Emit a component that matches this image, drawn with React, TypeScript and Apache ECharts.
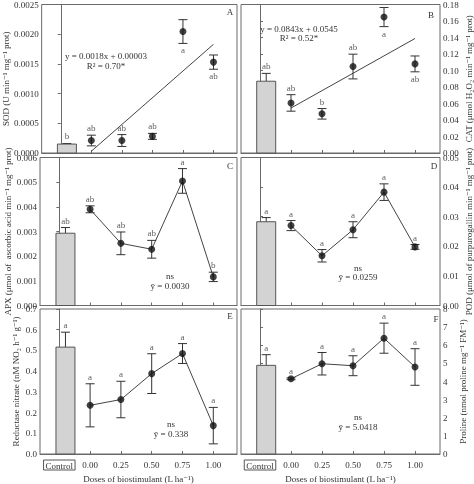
import React, { useEffect, useRef } from 'react';
import * as echarts from 'echarts';

// ---------- data ----------
const categories = ['Control', '0.00', '0.25', '0.50', '0.75', '1.00'];
const doseIndex = [1, 2, 3, 4, 5]; // position of each dose on the category scale
const controlOffset = 0.2; // bar drawn slightly right of its tick

// SOD (A)
const sodControl = [0.00015, 0.00001];
const sodControlLetter = 'b';
const sodMean = [0.00021, 0.00021, 0.00028, 0.002045, 0.00153];
const sodErr = [0.00009, 0.0001, 0.00005, 0.0002, 0.00012];
const sodLetters = ['ab', 'ab', 'ab', 'a', 'ab'];
const sodLetterPos = ['top', 'top', 'top', 'bottom', 'bottom'];
const sodFit = [0.0018, 0.00003]; // slope, intercept

// CAT (B)
const catControl = [0.087, 0.0095];
const catControlLetter = 'ab';
const catMean = [0.0607, 0.0475, 0.1048, 0.1648, 0.108];
const catErr = [0.01, 0.0064, 0.015, 0.0116, 0.0096];
const catLetters = ['ab', 'b', 'ab', 'a', 'ab'];
const catLetterPos = ['top', 'top', 'top', 'bottom', 'bottom'];
const catFit = [0.0843, 0.0545];

// APX (C)
const apxControl = [0.00293, 0.00023];
const apxControlLetter = 'ab';
const apxMean = [0.0039, 0.00252, 0.00228, 0.00505, 0.00116];
const apxErr = [0.00014, 0.00046, 0.00036, 0.0005, 0.00019];
const apxLetters = ['ab', 'ab', 'ab', 'a', 'b'];

// POD (D)
const podControl = [0.0283, 0.0014];
const podControlLetter = 'a';
const podMean = [0.027, 0.0168, 0.0256, 0.0383, 0.0198];
const podErr = [0.0017, 0.0021, 0.0027, 0.0028, 0.0008];
const podLetters = ['a', 'a', 'a', 'a', 'a'];

// Nitrate reductase (E)
const nrControl = [0.516, 0.072];
const nrControlLetter = 'a';
const nrMean = [0.235, 0.263, 0.388, 0.485, 0.137];
const nrErr = [0.104, 0.088, 0.096, 0.048, 0.088];
const nrLetters = ['a', 'a', 'a', 'a', 'a'];

// Proline (F)
const proControl = [4.89, 0.59];
const proControlLetter = 'a';
const proMean = [4.15, 4.98, 4.87, 6.39, 4.8];
const proErr = [0.05, 0.62, 0.55, 0.83, 1.01];
const proLetters = ['a', 'a', 'a', 'a', 'a'];

const allTop = ['top', 'top', 'top', 'top', 'top'];

// ---------- style ----------
const FONT = '"Liberation Serif", "DejaVu Serif", serif';
const TXT = '#333';
const AXIS = '#6a6a6a';

type Panel = {
  letter: string;
  control: number[];
  controlLetter: string;
  mean: number[];
  err: number[];
  letters: string[];
  letterPos: string[];
  fit: number[] | null;
  yMax: number;
  yInterval: number;
  decimals: number;
  side: 'left' | 'right';
  name: string;
  nameGap: number;
  grid: { left: number; top: number; width: number; height: number };
  xMin: number;
  xMax: number;
  bottom: boolean;
  notes: string[];
  notePos: number[];
  letterXY: number[];
};

const LEFT_X = { xMin: -0.627, xMax: 5.77 };
const RIGHT_X = { xMin: -0.613, xMax: 5.806 };

const panels: Panel[] = [
  {
    letter: 'A', control: sodControl, controlLetter: sodControlLetter, mean: sodMean, err: sodErr,
    letters: sodLetters, letterPos: sodLetterPos, fit: sodFit, yMax: 0.0025, yInterval: 0.0005, decimals: 4,
    side: 'left', name: 'SOD (U min⁻¹ mg⁻¹ prot)', nameGap: 23,
    grid: { left: 40, top: 3, width: 197, height: 150 }, ...LEFT_X, bottom: false,
    notes: ['y = 0.0018x + 0.00003', 'R² = 0.70*'], notePos: [106, 56], letterXY: [230, 12],
  },
  {
    letter: 'B', control: catControl, controlLetter: catControlLetter, mean: catMean, err: catErr,
    letters: catLetters, letterPos: catLetterPos, fit: catFit, yMax: 0.18, yInterval: 0.02, decimals: 2,
    side: 'right', name: 'CAT (μmol H₂O₂ min⁻¹ mg⁻¹ prot)', nameGap: 24,
    grid: { left: 241, top: 3, width: 199, height: 150 }, ...RIGHT_X, bottom: false,
    notes: ['y = 0.0843x + 0.0545', 'R² = 0.52*'], notePos: [299, 28.5], letterXY: [431, 15],
  },
  {
    letter: 'C', control: apxControl, controlLetter: apxControlLetter, mean: apxMean, err: apxErr,
    letters: apxLetters, letterPos: allTop, fit: null, yMax: 0.006, yInterval: 0.001, decimals: 3,
    side: 'left', name: 'APX (μmol of  ascorbic acid min⁻¹ mg⁻¹ prot)', nameGap: 23,
    grid: { left: 40, top: 157.5, width: 197, height: 148 }, ...LEFT_X, bottom: false,
    notes: ['ns', 'ȳ = 0.0030'], notePos: [170, 276], letterXY: [230, 165.5],
  },
  {
    letter: 'D', control: podControl, controlLetter: podControlLetter, mean: podMean, err: podErr,
    letters: podLetters, letterPos: allTop, fit: null, yMax: 0.05, yInterval: 0.01, decimals: 2,
    side: 'right', name: 'POD (μmol of purpurogallin min⁻¹ mg⁻¹ prot)', nameGap: 24,
    grid: { left: 241, top: 157.5, width: 199, height: 148 }, ...RIGHT_X, bottom: false,
    notes: ['ns', 'ȳ = 0.0259'], notePos: [358, 267.5], letterXY: [434, 166],
  },
  {
    letter: 'E', control: nrControl, controlLetter: nrControlLetter, mean: nrMean, err: nrErr,
    letters: nrLetters, letterPos: allTop, fit: null, yMax: 0.7, yInterval: 0.1, decimals: 1,
    side: 'left', name: 'Reductase nitrate (nM NO₂ h⁻¹ g⁻¹)', nameGap: 20,
    grid: { left: 40, top: 309, width: 197, height: 145 }, ...LEFT_X, bottom: true,
    notes: ['ns', 'ȳ = 0.338'], notePos: [171, 424], letterXY: [230, 316],
  },
  {
    letter: 'F', control: proControl, controlLetter: proControlLetter, mean: proMean, err: proErr,
    letters: proLetters, letterPos: allTop, fit: null, yMax: 8, yInterval: 1, decimals: 0,
    side: 'right', name: 'Proline (nmol proline mg⁻¹ FM⁻¹)', nameGap: 18,
    grid: { left: 241, top: 309, width: 199, height: 145 }, ...RIGHT_X, bottom: true,
    notes: ['ns', 'ȳ = 5.0418'], notePos: [358, 417], letterXY: [436, 318.5],
  },
];

const tickValues = [0, 1, 2, 3, 4, 5];

function buildOption() {
  const grid: any[] = [];
  const xAxis: any[] = [];
  const yAxis: any[] = [];
  const series: any[] = [];
  const graphic: any[] = [];

  panels.forEach((p, i) => {
    grid.push({ ...p.grid, show: true, borderColor: AXIS, borderWidth: 1, backgroundColor: 'transparent' });
    xAxis.push({
      type: 'value', gridIndex: i, min: p.xMin, max: p.xMax,
      axisLine: { show: true, lineStyle: { color: AXIS } },
      axisTick: { show: true, inside: true, length: 3, customValues: tickValues, lineStyle: { color: AXIS } },
      splitLine: { show: false },
      axisLabel: {
        show: p.bottom, customValues: tickValues, margin: 6, fontSize: 9, fontFamily: FONT, color: TXT,
        formatter: (v: number) => (Math.round(v) === 0 ? '{box|Control}' : categories[Math.round(v)]),
        rich: { box: { borderColor: '#555', borderWidth: 1, padding: [1, 2, 0, 2], fontSize: 9, fontFamily: FONT, color: TXT } },
      },
      name: p.bottom ? 'Doses of biostimulant (L ha⁻¹)' : '',
      nameLocation: 'middle', nameGap: 20,
      nameTextStyle: { fontSize: 9, fontFamily: FONT, color: TXT },
    });
    yAxis.push({
      type: 'value', gridIndex: i, min: 0, max: p.yMax, interval: p.yInterval, position: p.side,
      axisLine: { show: true, lineStyle: { color: AXIS } },
      axisTick: { show: true, inside: false, length: 3, lineStyle: { color: AXIS } },
      splitLine: { show: false },
      axisLabel: {
        margin: 3, fontSize: 9, fontFamily: FONT, color: TXT,
        formatter: (v: number) => v.toFixed(p.decimals),
      },
      name: p.name, nameLocation: 'middle', nameGap: p.nameGap, nameRotate: 90,
      nameTextStyle: { fontSize: 9, fontFamily: FONT, color: TXT },
    });

    // control bar with its (upper) error bar
    series.push({
      type: 'custom', xAxisIndex: i, yAxisIndex: i, z: 2,
      data: [[controlOffset, p.control[0], p.control[1]]],
      renderItem: (params: any, api: any) => {
        const x = api.value(0), y = api.value(1), e = api.value(2);
        const base = api.coord([x, 0]);
        const top = api.coord([x, y]);
        const et = api.coord([x, y + e]);
        const w = 19, cap = 4.5;
        return {
          type: 'group',
          children: [
            { type: 'line', shape: { x1: top[0], y1: top[1], x2: et[0], y2: et[1] }, style: { stroke: '#333', lineWidth: 1 } },
            { type: 'line', shape: { x1: et[0] - cap, y1: et[1], x2: et[0] + cap, y2: et[1] }, style: { stroke: '#333', lineWidth: 1 } },
            { type: 'rect', shape: { x: top[0] - w / 2, y: top[1], width: w, height: base[1] - top[1] }, style: { fill: '#d3d3d3', stroke: '#555', lineWidth: 1 } },
          ],
        };
      },
    });

    // line: regression or connecting line
    const lineData = p.fit
      ? [[doseIndex[0], p.fit[1]], [doseIndex[4], p.fit[0] * 1 + p.fit[1]]]
      : p.mean.map((m, k) => [doseIndex[k], m]);
    series.push({
      type: 'line', xAxisIndex: i, yAxisIndex: i, z: 3, data: lineData, symbol: 'none',
      lineStyle: { color: '#444', width: 1 }, silent: true,
    });

    // error bars
    series.push({
      type: 'custom', xAxisIndex: i, yAxisIndex: i, z: 4,
      data: p.mean.map((m, k) => [doseIndex[k], m, p.err[k]]),
      renderItem: (params: any, api: any) => {
        const x = api.value(0), y = api.value(1), e = api.value(2);
        const c = api.coord([x, y]);
        const hi = api.coord([x, y + e]);
        const lo = api.coord([x, y - e]);
        const cap = 4.5;
        return {
          type: 'group',
          children: [
            { type: 'line', shape: { x1: c[0], y1: hi[1], x2: c[0], y2: lo[1] }, style: { stroke: '#333', lineWidth: 1 } },
            { type: 'line', shape: { x1: c[0] - cap, y1: hi[1], x2: c[0] + cap, y2: hi[1] }, style: { stroke: '#333', lineWidth: 1 } },
            { type: 'line', shape: { x1: c[0] - cap, y1: lo[1], x2: c[0] + cap, y2: lo[1] }, style: { stroke: '#333', lineWidth: 1 } },
          ],
        };
      },
    });

    // points
    series.push({
      type: 'scatter', xAxisIndex: i, yAxisIndex: i, z: 5, symbol: 'circle', symbolSize: 7,
      itemStyle: { color: '#111' }, data: p.mean.map((m, k) => [doseIndex[k], m]),
    });

    // significance letters as labels of invisible markers at the error-bar ends
    const letterItems: any[] = [
      {
        value: [controlOffset, p.control[0] + p.control[1]],
        name: p.controlLetter,
        label: { position: 'top' },
      },
      ...p.mean.map((m, k) => ({
        value: [doseIndex[k], p.letterPos[k] === 'top' ? m + p.err[k] : m - p.err[k]],
        name: p.letters[k],
        label: { position: p.letterPos[k] },
      })),
    ];
    series.push({
      type: 'scatter', xAxisIndex: i, yAxisIndex: i, z: 6, symbol: 'circle', symbolSize: 1,
      itemStyle: { color: 'rgba(0,0,0,0)' }, silent: true,
      data: letterItems,
      label: {
        show: true, distance: 2, fontSize: 9, fontFamily: FONT, color: TXT,
        formatter: (d: any) => d.name,
      },
    });

    // annotations
    p.notes.forEach((t, j) => {
      graphic.push({
        type: 'text', x: p.notePos[0], y: Math.round(p.notePos[1] + j * 9.5), z: 10,
        style: { text: t, align: 'center', verticalAlign: 'middle', font: `9px ${FONT}`, fill: TXT },
      });
    });
    graphic.push({
      type: 'text', x: p.letterXY[0], y: Math.round(p.letterXY[1]), z: 10,
      style: { text: p.letter, align: 'center', verticalAlign: 'middle', font: `9px ${FONT}`, fill: TXT },
    });
  });

  return {
    animation: false,
    backgroundColor: '#fff',
    grid, xAxis, yAxis, series, graphic,
  };
}

export default function App() {
  const ref = useRef<HTMLDivElement>(null);
  useEffect(() => {
    if (!ref.current) return;
    const chart = echarts.init(ref.current, null, { renderer: 'svg' });
    chart.setOption(buildOption() as any);
    return () => chart.dispose();
  }, []);
  return (
    <div
      ref={ref}
      style={{
        position: 'fixed', left: 0, top: 0, width: 474, height: 484,
        background: '#fff', filter: 'grayscale(1)',
      }}
    />
  );
}
